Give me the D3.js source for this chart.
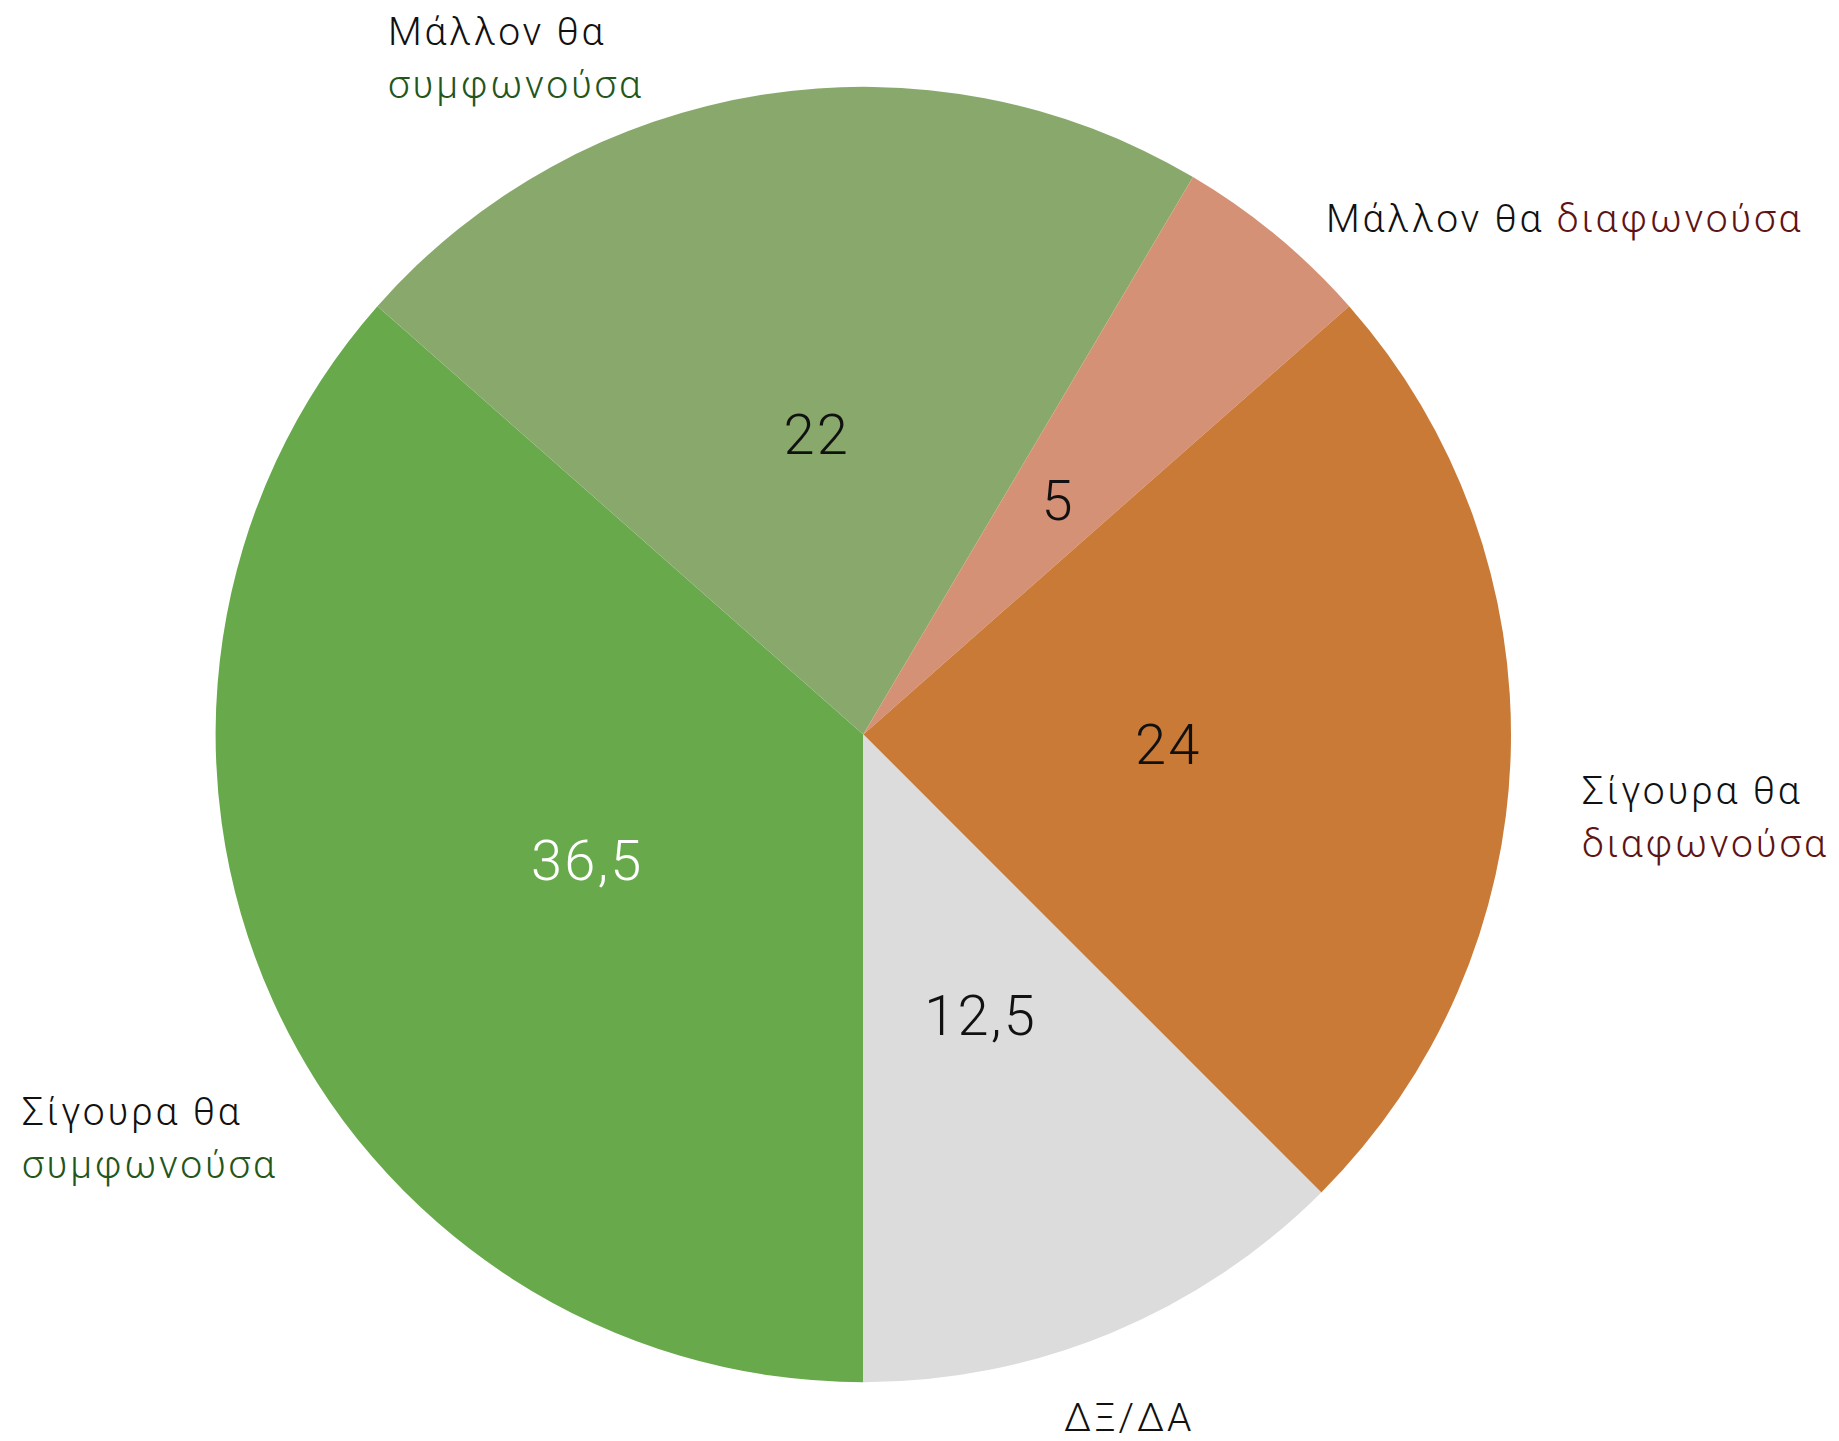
<!DOCTYPE html>
<html>
<head>
<meta charset="utf-8">
<script src="https://cdn.jsdelivr.net/npm/d3@7"></script>
<style>
  html, body { margin: 0; padding: 0; background: #fff; }
  svg text { font-family: "Helvetica Neue", Roboto, "Liberation Sans", sans-serif; font-weight: 300; }
</style>
</head>
<body>
<svg id="chart" width="1839" height="1441"></svg>
<script>
const categories = ["Σίγουρα θα συμφωνούσα", "Μάλλον θα συμφωνούσα", "Μάλλον θα διαφωνούσα", "Σίγουρα θα διαφωνούσα", "ΔΞ/ΔΑ"];
const values = [36.5, 22, 5, 24, 12.5];
const valueLabels = ["36,5", "22", "5", "24", "12,5"];
const colors = ["#68aa4b", "#89a96c", "#d49175", "#c97a36", "#dcdcdc"];
const valueTextColors = ["#ffffff", "#111111", "#111111", "#111111", "#111111"];
const outerLabels = [
  { x: 22, y: 1125, lines: [[["Σίγουρα θα", "#111"]], [["συμφωνούσα", "#22561c"]]] },
  { x: 388, y: 45, lines: [[["Μάλλον θα", "#111"]], [["συμφωνούσα", "#22561c"]]] },
  { x: 1326, y: 232, lines: [[["Μάλλον θα ", "#111"], ["διαφωνούσα", "#5e1414"]]] },
  { x: 1582, y: 804, lines: [[["Σίγουρα θα", "#111"]], [["διαφωνούσα", "#5e1414"]]] },
  { x: 1064, y: 1431, lines: [[["ΔΞ/ΔΑ", "#111"]]] }
];

const cx = 863.3, cy = 734.5, R = 647.7;
const svg = d3.select("#chart");
const g = svg.append("g").attr("transform", `translate(${cx},${cy})`);

const pie = d3.pie().sort(null).value(d => d).startAngle(Math.PI).endAngle(3 * Math.PI);
const arcs = pie(values);
const arc = d3.arc().innerRadius(0).outerRadius(R);
const labelArc = d3.arc().innerRadius(304).outerRadius(304);

g.selectAll("path.slice").data(arcs).enter().append("path")
  .attr("class", "slice")
  .attr("d", arc)
  .attr("fill", (d, i) => colors[i]);

g.selectAll("text.val").data(arcs).enter().append("text")
  .attr("class", "val")
  .attr("x", d => labelArc.centroid(d)[0] + 1)
  .attr("y", d => labelArc.centroid(d)[1] + 20)
  .attr("text-anchor", "middle")
  .attr("font-size", 56)
  .attr("letter-spacing", 2.2)
  .attr("fill", (d, i) => valueTextColors[i])
  .text((d, i) => valueLabels[i]);

outerLabels.forEach(lab => {
  lab.lines.forEach((segs, li) => {
    const t = svg.append("text")
      .attr("x", lab.x)
      .attr("y", lab.y + li * 53)
      .attr("text-anchor", "start")
      .attr("font-size", 39)
      .attr("letter-spacing", 2.8);
    segs.forEach(s => t.append("tspan").attr("fill", s[1]).text(s[0]));
  });
});
</script>
</body>
</html>
